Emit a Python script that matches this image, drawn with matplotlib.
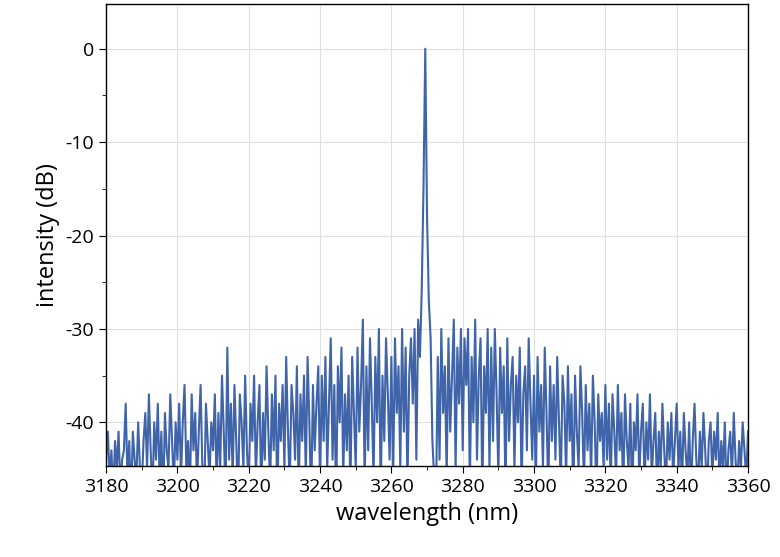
import numpy as np
import matplotlib
matplotlib.use("Agg")
import matplotlib.pyplot as plt
from matplotlib.ticker import MultipleLocator

plt.rcParams['font.family'] = ['Open Sans', 'DejaVu Sans']
plt.rcParams['axes.unicode_minus'] = False

wl_start, wl_step = 3180.0, 0.5
intensity_db = [
 -44,-41,-46,-43,-48,-42,-45,-41,-47,-44,-43,-38,-46,-42,-49,-41,-44,-46,-40,-45,
 -47,-42,-39,-45,-37,-43,-48,-40,-44,-38,-46,-41,-49,-39,-43,-45,-37,-42,-47,-40,
 -44,-38,-46,-40,-36,-45,-42,-48,-37,-43,-39,-47,-41,-36,-45,-49,-38,-42,-46,-40,
 -43,-37,-47,-39,-45,-35,-41,-48,-32,-44,-38,-46,-36,-42,-49,-37,-40,-45,-35,-43,
 -47,-38,-42,-35,-46,-40,-36,-48,-39,-44,-34,-41,-47,-37,-43,-35,-49,-38,-42,-36,
 -45,-33,-41,-47,-36,-39,-44,-34,-48,-37,-42,-35,-46,-33,-40,-49,-36,-43,-38,-34,
 -47,-35,-42,-33,-45,-38,-31,-44,-36,-49,-34,-40,-32,-46,-37,-43,-35,-48,-33,-39,
 -45,-32,-41,-36,-29,-47,-34,-43,-31,-38,-46,-33,-40,-30,-48,-35,-42,-31,-37,-44,
 -33,-46,-31,-39,-34,-45,-30,-41,-32,-47,-35,-31,-38,-30,-44,-29,-33,-26,-15,0,
 -18,-27,-31,-42,-46,-49,-33,-44,-30,-39,-34,-46,-31,-41,-35,-29,-45,-32,-38,-30,
 -43,-31,-36,-30,-47,-33,-40,-29,-44,-35,-31,-48,-34,-39,-30,-45,-32,-42,-30,-37,
 -46,-32,-39,-34,-48,-31,-42,-36,-33,-45,-35,-40,-32,-47,-37,-34,-43,-31,-38,-44,
 -35,-47,-33,-41,-36,-45,-32,-39,-48,-34,-42,-36,-44,-33,-40,-47,-35,-38,-46,-34,
 -42,-37,-49,-35,-41,-45,-34,-39,-47,-36,-43,-38,-46,-35,-40,-48,-37,-42,-39,-45,
 -36,-44,-38,-47,-37,-41,-46,-36,-43,-39,-48,-37,-42,-45,-38,-49,-40,-43,-37,-46,
 -41,-38,-47,-40,-44,-37,-46,-42,-39,-48,-41,-45,-38,-43,-47,-40,-44,-39,-46,-42,
 -38,-45,-41,-47,-39,-43,-46,-40,-48,-42,-38,-44,-47,-41,-45,-39,-43,-48,-42,-40,
 -46,-41,-44,-39,-47,-42,-45,-40,-48,-43,-41,-46,-39,-44,-47,-42,-45,-40,-43,-46,
 -41]
wavelength = wl_start + wl_step * np.arange(len(intensity_db))

fig = plt.figure(figsize=(7.8, 5.57), dpi=100)
ax = fig.add_axes([0.136, 0.163, 0.823, 0.830])
ax.plot(wavelength, intensity_db, color='#3f64aa', lw=1.5)
ax.set_xlim(3180, 3360)
ax.set_ylim(-44.7, 4.8)
ax.xaxis.set_major_locator(MultipleLocator(20))
ax.xaxis.set_minor_locator(MultipleLocator(10))
ax.yaxis.set_major_locator(MultipleLocator(10))
ax.yaxis.set_minor_locator(MultipleLocator(5))
ax.grid(True, which='major', color='#e0e0e0', lw=0.8)
ax.set_axisbelow(True)
ax.tick_params(which='both', direction='out', labelsize=14)
ax.tick_params(which='major', length=5)
ax.tick_params(which='minor', length=3)
for s in ax.spines.values():
    s.set_linewidth(1.0)
ax.set_xlabel('wavelength (nm)', fontsize=17)
ax.set_ylabel('intensity (dB)', fontsize=17)
fig.savefig('out.png', dpi=100)
